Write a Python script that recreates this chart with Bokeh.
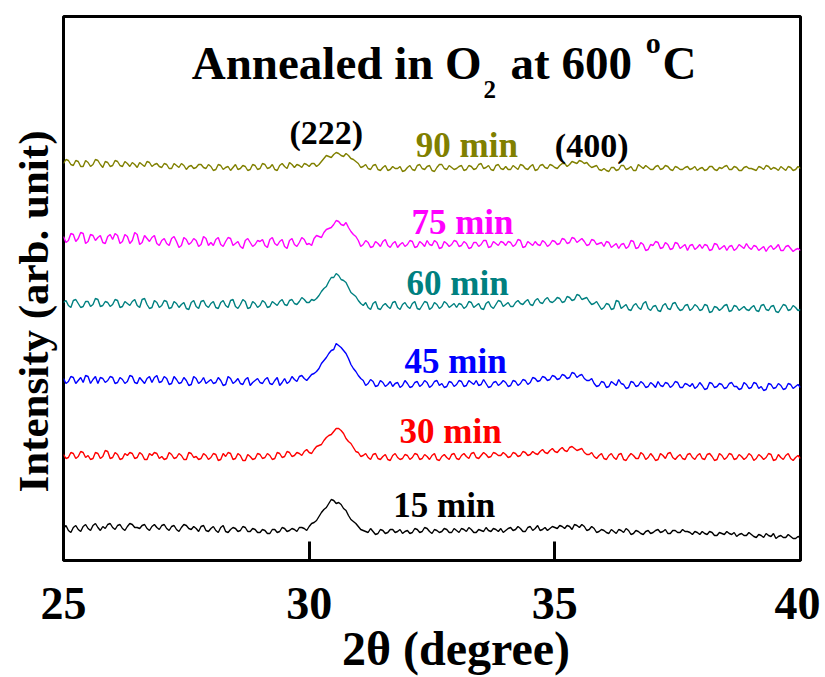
import numpy as np
from bokeh.plotting import figure
from bokeh.models import Range1d, FixedTicker, Label, Title
from bokeh.embed import file_html
from bokeh.resources import INLINE

# 2-theta sampling grid (degrees): 0.05 deg step from 25 to 40
two_theta = np.round(np.arange(500, 801) / 20.0, 2)

# Relative intensities (arb. unit).
# i_XX: readings at 25.0, 25.1, ... 40.0 ; i_XX_mid: readings at 25.05, 25.15, ... 39.95
i_15 = [0, -2, 1, -1, 2, 0, 3, 1, 2, 4,
        1, 3, 0, 2, 4, 1, 3, 0, 2, 1,
        3, 0, 2, -1, 1, 3, -1, 0, 2, -2,
        0, -2, 1, -3, -1, 0, -2, 1, -3, -1,
        -4, -2, -5, -1, -3, 0, -2, -1, 1, 0,
        2, 6, 12, 19, 25, 28, 26, 20, 13, 7,
        2, -2, -4, -3, -5, -2, -4, -1, -3, -5,
        -2, -4, -1, -3, 0, -5, -2, -3, -1, -4,
        -2, 0, -3, -1, -4, -2, 1, -3, -1, 0,
        -2, 1, -1, 0, -3, 2, 0, -2, 1, 0,
        1, 3, 0, 2, 4, 1, 2, -1, 0, -3,
        -2, -5, -3, -1, -4, -2, -5, -3, -6, -2,
        -4, -1, -3, -5, -2, -4, -1, -3, -6, -4,
        -3, -6, -4, -7, -5, -3, -6, -8, -5, -7,
        -6, -9, -7, -5, -8, -10, -7, -9, -8, -10,
        -9]
i_15_mid = [3, -4, 3, -3, 4, -2, 5, -2, 0, 5,
            -1, 4, -2, 5, 1, 0, 4, -2, 4, -1,
            4, -2, 3, -3, 4, 0, 2, -3, 3, -3,
            2, -4, 3, -4, 1, -3, 2, -3, 0, -4,
            -1, -5, -1, -4, 1, -3, 0, -3, 1, -2,
            5, 8, 16, 21, 29, 25, 24, 18, 9, 5,
            -1, -3, 0, -6, -1, -5, -1, -4, -1, -3,
            -5, 0, -4, 1, -3, -1, -4, 0, -4, 0,
            -4, -1, 1, -4, -1, -3, -2, 0, -3, -4,
            0, -2, 2, -3, 1, -2, 3, -1, -2, 2,
            0, 2, 3, -1, 3, 4, -2, 2, -4, -1,
            -4, -1, -5, -2, 0, -6, -2, -5, -3, -5,
            -2, -4, -1, -5, -2, -4, -3, -4, -3, -6,
            -5, -3, -7, -4, -6, -5, -4, -6, -7, -4,
            -8, -6, -9, -7, -5, -8, -9, -6, -10, -8]

i_30 = [1, -2, 2, -1, 3, 0, -3, 2, -1, 4,
        -2, 1, -3, 0, 2, -2, 1, -4, 0, 2,
        -1, -3, 1, -2, 0, -4, 2, -1, -3, 0,
        -2, 1, -4, -1, 2, -3, 0, -5, -1, -3,
        1, -2, 0, -3, 2, -1, 3, 0, 2, 4,
        3, 6, 10, 15, 20, 24, 27, 22, 14, 8,
        3, 0, -2, 1, -3, -1, -4, 0, -2, -3,
        0, -2, 1, -3, -1, 0, -4, -1, -2, 1,
        -3, 0, -1, 2, -2, 0, 1, -1, 2, 0,
        1, -1, 2, 0, 3, 1, 2, 4, 3, 5,
        4, 6, 5, 8, 7, 6, 3, 1, -1, 0,
        -3, 0, -2, 1, -4, -1, 0, -3, 1, -2,
        -1, -4, 0, 2, -2, -1, -3, 1, -2, 0,
        -3, 1, -1, -4, 0, -2, 1, -3, -1, -2,
        0, -3, -1, -2, 1, -4, -2, 0, -3, -2,
        -3]
i_30_mid = [-3, 3, -3, 4, -2, -4, 3, -3, 5, -3,
            3, -4, 2, 3, -3, 3, -4, 2, 3, -3,
            -4, 3, -3, 2, -4, 3, -2, -4, 2, -4,
            2, -5, 2, 3, -4, 2, -5, 1, -4, 2,
            -3, 2, -4, 3, -2, 4, -1, 3, 0, 6,
            2, 9, 11, 18, 21, 27, 25, 17, 12, 4,
            -1, 2, -4, 2, -4, 1, -5, 2, -4, 1,
            -4, 2, -4, 1, -4, 2, -5, 1, -4, 2,
            -4, 2, -3, 3, -3, 3, -2, 3, 0, 3,
            -2, 3, -1, 4, 0, 4, 1, 6, 2, 7,
            3, 8, 4, 9, 5, 7, 1, 3, -3, 2,
            -4, 2, -4, 2, -5, 2, -3, 3, -4, 2,
            -5, 2, -3, 3, -4, 1, -4, 2, -4, 2,
            -4, 2, -5, 2, -4, 2, -4, 1, -4, 2,
            -5, 1, -4, 2, -5, 1, -4, 2, -5, 0]

i_45 = [2, -1, 3, 0, -2, 4, 1, -3, 2, 0,
        3, -2, 1, -1, 4, -3, 0, 2, -2, 5,
        -1, 2, -3, 1, -2, 0, -4, 2, -1, -3,
        1, -2, 0, -4, 2, -1, -3, 1, -5, 0,
        -2, 1, -3, 0, -5, 2, -1, 1, 4, 2,
        3, 7, 12, 20, 27, 31, 35, 30, 22, 12,
        5, 0, -3, -1, -5, -2, -4, -6, -2, -5,
        -3, -6, -1, -4, -2, -5, 0, -3, -6, -2,
        -4, -1, -5, -2, 0, -4, -3, -6, -1, -3,
        -2, -5, -1, -3, 0, -2, 2, 0, 3, 1,
        4, 2, 5, 3, 7, 5, 2, 0, -3, -5,
        -2, -6, -3, 1, -4, -7, -2, -5, -3, -6,
        -4, -1, -6, -3, -5, -2, -7, -4, -3, -6,
        -5, -8, -3, -6, -4, -7, -2, -6, -8, -4,
        -7, -3, -6, -9, -4, -7, -5, -8, -4, -6,
        -7]
i_45_mid = [-3, 4, -3, 3, 5, -3, 4, 3, -2, 4,
            -3, 3, -3, 5, -2, 3, -3, 4, 3, -2,
            4, -4, 4, -3, 3, -5, 4, -3, 3, -1,
            -3, 3, -5, 4, -3, 2, -4, 3, -2, 2,
            -3, 3, -4, 3, -2, -3, 4, -1, 5, 0,
            6, 9, 17, 23, 30, 37, 33, 27, 16, 9,
            2, -5, 1, -6, 0, -6, -1, -3, -7, 0,
            -7, -2, -6, 0, -7, -1, -5, -7, -1, -6,
            0, -6, 0, -4, -5, 1, -7, -2, -5, 0,
            -6, 0, -5, 1, -4, 3, -1, 4, 0, 5,
            1, 6, 2, 8, 3, 6, 0, 2, -6, -1,
            -7, -1, -5, -3, -8, -1, -6, -1, -7, -2,
            -7, -5, -2, -7, -1, -7, -3, -6, -8, -2,
            -9, -2, -7, -3, -8, -3, -6, -9, -2, -8,
            -2, -8, -10, -3, -8, -3, -9, -3, -8, -4]

i_60 = [1, -2, 3, 0, -3, 2, -1, 4, -2, 1,
        -1, 3, -3, 0, 2, -2, 4, -1, -4, 1,
        -2, 2, -4, 0, -1, -5, 1, -3, 2, -2,
        0, -4, 1, -2, 3, -3, -1, 2, -4, 0,
        -2, 1, -3, 0, 2, -1, 3, 0, 2, 4,
        1, 3, 8, 15, 22, 26, 28, 23, 16, 9,
        3, -2, -4, 0, -5, -2, -3, 1, -4, -1,
        -3, 0, -5, -2, 1, -4, -1, -3, 0, -2,
        -4, -1, -3, 1, -2, -5, 0, -3, -1, 2,
        -1, -3, 1, 0, 2, -1, 3, 1, 4, 2,
        3, 5, 2, 6, 4, 8, 5, 2, 0, -2,
        -4, -1, -5, 2, -3, -6, -2, -4, 0, -5,
        -3, -7, -2, -5, 0, -4, -6, -1, -5, -3,
        -6, -2, -8, -4, -5, -1, -7, -3, -5, -6,
        -4, -7, -2, -6, -3, -8, -5, -2, -6, -4,
        -6]
i_60_mid = [3, -4, 4, -4, 2, -3, 5, -3, 2, -3,
            4, -4, 2, -2, 4, -4, 5, -5, 3, -4,
            3, -5, 2, -4, 1, -6, 3, -5, 3, -4,
            2, -5, 3, -4, 4, -5, 4, -5, 2, -4,
            3, -4, 2, -2, 4, -2, 4, -1, 6, 1,
            4, 5, 12, 17, 26, 30, 24, 21, 11, 7,
            0, 1, -6, 2, -6, 0, -5, 2, -6, 1,
            -5, 2, -6, 2, -6, 1, -5, 2, -4, 0,
            0, -5, 2, -4, 0, -6, 2, -5, 3, -3,
            1, -3, 3, -1, 4, -2, 5, 0, 6, 1,
            6, 1, 7, 3, 9, 4, 6, -1, 2, -6,
            0, -6, 3, -5, -1, -7, 0, -6, 2, -7,
            -2, -8, 0, -6, 1, -7, -2, -7, -1, -7,
            -1, -9, -3, -7, -2, -8, -2, -7, -3, -7,
            -2, -8, -1, -7, -2, -9, -1, -7, -2, -7]

i_75 = [2, -2, 4, 0, 5, -3, 3, 1, -4, 2,
        -1, 3, -3, 2, -2, 4, -4, 0, 1, -5,
        -2, -5, 0, -3, -7, -1, -4, -2, -6, 0,
        -4, -1, -6, -3, 0, -5, -8, -2, -4, -6,
        -3, -7, -1, -5, -3, -8, -2, -6, -4, -1,
        -5, 0, 2, 6, 10, 14, 17, 13, 11, 4,
        -2, -6, -4, -8, -5, -3, -7, -5, -9, -4,
        -6, -3, -8, -5, -2, -7, -4, -9, -5, -6,
        -3, -7, -5, -9, -4, -6, -2, -8, -5, -3,
        -7, -4, -6, -2, -8, -5, -3, -7, -4, -6,
        -3, -5, -1, -4, 0, -2, -3, -6, -2, -5,
        -8, -4, -7, -10, -5, -8, -3, -9, -6, -11,
        -7, -4, -9, -6, -10, -5, -8, -12, -6, -9,
        -10, -7, -11, -6, -9, -12, -7, -10, -8, -5,
        -11, -8, -10, -13, -7, -9, -12, -8, -10, -11,
        -12]
i_75_mid = [-4, 5, -3, 6, -5, 4, -2, 3, -5, 4,
            5, -5, 4, -5, 6, -6, 3, -3, 3, -7,
            0, -7, 2, -9, 1, -6, 0, -8, 2, -7,
            -7, 1, -8, 1, -7, -3, -10, 0, -8, -2,
            -1, -9, 1, -7, -1, -10, 0, -8, 1, -6,
            -7, 3, 1, 9, 11, 18, 14, 16, 7, 2,
            -8, -2, -9, -3, -8, -1, -9, -3, -6, -8,
            -2, -9, -3, -8, -6, -2, -10, -3, -8, -2,
            -8, -3, -10, -4, -8, -2, -9, -3, -7, -4,
            -3, -8, -1, -9, -3, -7, -6, -2, -8, -2,
            -6, 0, -5, 1, -4, 0, -7, -1, -6, -4,
            -3, -9, -5, -6, -10, -2, -10, -4, -12, -6,
            -3, -10, -4, -11, -4, -10, -6, -7, -11, -6,
            -6, -12, -5, -11, -7, -8, -12, -6, -10, -9,
            -7, -12, -8, -9, -11, -6, -12, -7, -13, -10]

i_90 = [2, 5, 0, 4, -1, 3, 1, 5, -2, 3,
        0, 4, -1, 2, 3, -2, 1, 4, -1, 2,
        -2, 1, -3, 0, 2, -4, 0, -2, 1, -3,
        -1, -4, 0, -2, -5, 1, -3, -1, -4, 0,
        -3, 1, -2, -4, 0, -1, 3, -2, 0, 2,
        -1, 2, 1, 7, 9, 11, 12, 9, 10, 6,
        2, -1, -3, 0, -4, -2, -5, -1, -3, -6,
        -2, -4, 0, -3, -1, -5, -2, 1, -4, -2,
        -3, 0, -4, -1, -3, 2, -2, -4, 0, -3,
        -1, -4, -2, 1, -3, -1, -5, 0, -2, 1,
        -2, 0, 2, 1, 3, 5, 2, 0, -1, -4,
        -3, -6, -2, -4, 0, -3, -5, 1, -3, -2,
        -4, 0, -3, -1, -5, -2, -4, -1, -3, -5,
        -2, -4, -1, -5, -3, 0, -4, -2, -5, -1,
        -3, -5, -2, 0, -4, -3, -1, -5, -2, -4,
        -3]
i_90_mid = [6, 1, 5, -1, 5, -1, 6, 1, 4, -1,
            5, 0, 4, -1, 1, 3, -1, 3, 1, -1,
            2, -3, 2, -2, 0, -1, -3, 1, -2, 1,
            -5, 1, -4, -1, -2, -4, 0, -5, 1, -4,
            2, -3, 1, -5, 2, -3, 1, 1, -2, 1,
            2, -1, 4, 10, 8, 13, 10, 12, 7, 4,
            -2, 1, -4, 1, -5, 0, -4, -3, -1, -5,
            0, -5, 1, -4, 0, -6, 1, -3, 0, -4,
            -1, -5, 0, -4, 1, -3, 0, -5, 1, -4,
            -4, 0, -4, 0, -4, 1, -4, 1, -3, 0,
            -3, 2, -1, 4, 2, 4, 3, -2, 0, -5,
            -5, -2, -5, 0, -4, -1, -5, -1, 0, -4,
            -1, -4, 0, -4, -1, -4, -2, -4, -1, -3,
            -5, -1, -4, -2, -1, -4, -1, -5, -2, -3,
            -4, -1, -4, -1, -2, -5, -3, -1, -5, -1]

series = ["15 min", "30 min", "45 min", "60 min", "75 min", "90 min"]
readings = [(i_15, i_15_mid), (i_30, i_30_mid), (i_45, i_45_mid),
            (i_60, i_60_mid), (i_75, i_75_mid), (i_90, i_90_mid)]
stack_offsets = [32, 105, 180, 257, 322, 395]
colors = ["#000000", "#FF0000", "#0000FF", "#008080", "#FF00FF", "#808000"]

# label anchor points (data coords, text centre)
series_label_x = [32.75, 32.88, 32.98, 33.02, 33.12, 33.21]
series_label_y = [55, 129, 199, 277, 338, 415]

x_ticks = [25, 30, 35, 40]

FONT = "Liberation Serif"

p = figure(width=820, height=677, output_backend="svg", toolbar_location=None,
           x_range=Range1d(25, 40), y_range=Range1d(0, 544), y_axis_location=None,
           min_border_left=63, min_border_right=20, min_border_top=16, min_border_bottom=117)

p.background_fill_color = "white"
p.border_fill_color = "white"
p.outline_line_color = "black"
p.outline_line_width = 3
p.xgrid.visible = False
p.ygrid.visible = False

xa = p.xaxis[0]
xa.ticker = FixedTicker(ticks=x_ticks)
xa.axis_line_color = None
xa.major_tick_in = 19
xa.major_tick_out = 0
xa.major_tick_line_width = 3
xa.major_tick_line_color = "black"
xa.minor_tick_line_color = None
xa.major_label_text_font = FONT
xa.major_label_text_font_style = "bold"
xa.major_label_text_font_size = "46px"
xa.major_label_text_color = "black"
xa.major_label_standoff = 27
xa.axis_label = "\u20032\u03b8 (degree)"
xa.axis_label_text_font = FONT
xa.axis_label_text_font_style = "bold"
xa.axis_label_text_font_size = "48px"
xa.axis_label_text_color = "black"
xa.axis_label_standoff = 0

ylab = Title(text="Intensity (arb. unit)", align="left", offset=68, vertical_align="middle",
             text_font=FONT, text_font_style="bold", text_font_size="43px",
             text_color="black", standoff=12)
p.add_layout(ylab, "left")

for name, (vals, mids), off, col in zip(series, readings, stack_offsets, colors):
    y = np.empty(len(two_theta))
    y[0::2] = vals
    y[1::2] = mids
    p.line(two_theta, y + off, line_color=col, line_width=1.4)


def lab(x, y, text, size, color="black", style="bold", align="left"):
    p.add_layout(Label(x=x, y=y, text=text, text_align=align, text_baseline="middle",
                       text_font=FONT, text_font_style=style, text_font_size=size,
                       text_color=color))


for name, lx, ly, col in zip(series, series_label_x, series_label_y, colors):
    lab(lx, ly, name, "35px", color=col, align="center")

# peak annotations
lab(30.35, 428, "(222)", "34px", align="center")
lab(35.75, 415, "(400)", "34px", align="center")

# title inside the frame
lab(27.61, 498, "Annealed in O", "47px")
lab(33.55, 471, "2", "25px")
lab(34.10, 498, "at 600", "47px")
lab(36.85, 518, "o", "30px")
lab(37.19, 498, "C", "47px")

open("out.html", "w").write(file_html(p, INLINE))
